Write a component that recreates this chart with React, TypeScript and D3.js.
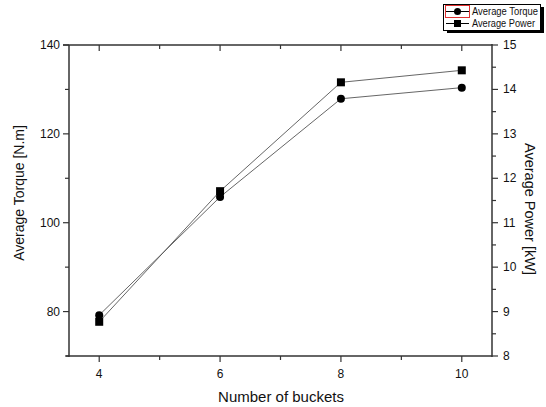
import React from "react";
import * as d3 from "d3";

const buckets = [4, 6, 8, 10];
const torque = [79.2, 105.8, 127.9, 130.4];
const power = [8.77, 11.71, 14.16, 14.43];
const xTicks = [4, 6, 8, 10];
const xMinor = [5, 7, 9];
const leftTicks = [80, 100, 120, 140];
const leftMinor = [70, 90, 110, 130];
const rightTicks = [8, 9, 10, 11, 12, 13, 14, 15];
const rightMinor = [8.5, 9.5, 10.5, 11.5, 12.5, 13.5, 14.5];
const seriesNames = ["Average Torque", "Average Power"];

export default function App() {
  const W = 546, H = 407;
  const L = 69, R = 492, T = 45, B = 356;
  const x = d3.scaleLinear().domain([3.5, 10.5]).range([L, R]);
  const yL = d3.scaleLinear().domain([70, 140]).range([B, T]);
  const yR = d3.scaleLinear().domain([8, 15]).range([B, T]);
  const font = "Arial, 'Liberation Sans', sans-serif";
  const axisColor = "#333";
  const lineColor = "#555";

  const lineT = d3.line<number>().x((_, i) => x(buckets[i])).y((d) => yL(d))(torque) || "";
  const lineP = d3.line<number>().x((_, i) => x(buckets[i])).y((d) => yR(d))(power) || "";

  return (
    <svg width={W} height={H} style={{ position: "absolute", left: 0, top: 0 }} fontFamily={font}>
      <rect width={W} height={H} fill="#fff" />
      {/* frame */}
      <line x1={63} x2={R} y1={T} y2={T} stroke={axisColor} strokeWidth={1.5} />
      <line x1={66} x2={R} y1={B} y2={B} stroke={axisColor} strokeWidth={1.5} />
      <line x1={L} x2={L} y1={T} y2={B + 1} stroke={axisColor} strokeWidth={1.5} />
      <line x1={R} x2={R} y1={T - 1} y2={B + 1} stroke={axisColor} strokeWidth={1.5} />

      {/* bottom axis */}
      {xTicks.map((t) => (
        <g key={"bx" + t}>
          <line x1={x(t)} x2={x(t)} y1={B} y2={B + 6} stroke={axisColor} strokeWidth={1.2} />
          <line x1={x(t)} x2={x(t)} y1={T} y2={T + 6} stroke={axisColor} strokeWidth={1.2} />
          <text x={x(t)} y={378} fontSize={12} textAnchor="middle" fill="#111">{t}</text>
        </g>
      ))}
      {xMinor.map((t) => (
        <g key={"bm" + t}>
          <line x1={x(t)} x2={x(t)} y1={B} y2={B + 4} stroke={axisColor} strokeWidth={1.2} />
          <line x1={x(t)} x2={x(t)} y1={T} y2={T + 4} stroke={axisColor} strokeWidth={1.2} />
        </g>
      ))}

      {/* left axis */}
      {leftTicks.map((t) => (
        <g key={"l" + t}>
          <line x1={L - 6} x2={L} y1={yL(t)} y2={yL(t)} stroke={axisColor} strokeWidth={1.2} />
          <text x={60} y={yL(t) + 4} fontSize={12} textAnchor="end" fill="#111">{t}</text>
        </g>
      ))}
      {leftMinor.map((t) => (
        <line key={"lm" + t} x1={L - 4} x2={L} y1={yL(t)} y2={yL(t)} stroke={axisColor} strokeWidth={1.2} />
      ))}

      {/* right axis */}
      {rightTicks.map((t) => (
        <g key={"r" + t}>
          <line x1={R} x2={R + 6} y1={yR(t)} y2={yR(t)} stroke={axisColor} strokeWidth={1.2} />
          <text x={503} y={yR(t) + 4} fontSize={12} textAnchor="start" fill="#111">{t}</text>
        </g>
      ))}
      {rightMinor.map((t) => (
        <line key={"rm" + t} x1={R} x2={R + 4} y1={yR(t)} y2={yR(t)} stroke={axisColor} strokeWidth={1.2} />
      ))}

      {/* axis titles */}
      <text x={281} y={402} fontSize={15} textAnchor="middle" fill="#111">Number of buckets</text>
      <text transform={`translate(24,193) rotate(-90)`} fontSize={14} textAnchor="middle" fill="#111">Average Torque [N.m]</text>
      <text transform={`translate(525,209) rotate(90)`} fontSize={14.5} textAnchor="middle" fill="#111">Average Power [kW]</text>

      {/* series */}
      <path d={lineT} fill="none" stroke={lineColor} strokeWidth={0.9} />
      <path d={lineP} fill="none" stroke={lineColor} strokeWidth={0.9} />
      {torque.map((v, i) => (
        <circle key={"c" + i} cx={x(buckets[i])} cy={yL(v)} r={4} fill="#000" />
      ))}
      {power.map((v, i) => (
        <rect key={"s" + i} x={x(buckets[i]) - 4} y={yR(v) - 4} width={8} height={8} fill="#000" />
      ))}

      {/* legend */}
      <rect x={447} y={7} width={97} height={26} fill="#000" />
      <rect x={443.5} y={4.5} width={97} height={26} fill="#fff" stroke="#000" strokeWidth={1} />
      <rect x={445.5} y={5.5} width={24} height={12} fill="none" stroke="#e03030" strokeWidth={1} />
      <line x1={446} x2={469} y1={11.5} y2={11.5} stroke="#000" strokeWidth={1} />
      <circle cx={457.5} cy={11.5} r={3.5} fill="#000" />
      <text x={472} y={15} fontSize={10} fill="#111" textLength={66} lengthAdjust="spacingAndGlyphs">{seriesNames[0]}</text>
      <line x1={446} x2={469} y1={23.5} y2={23.5} stroke="#000" strokeWidth={1} />
      <rect x={454} y={20} width={7} height={7} fill="#000" />
      <text x={472} y={27} fontSize={10} fill="#111" textLength={63} lengthAdjust="spacingAndGlyphs">{seriesNames[1]}</text>
    </svg>
  );
}
